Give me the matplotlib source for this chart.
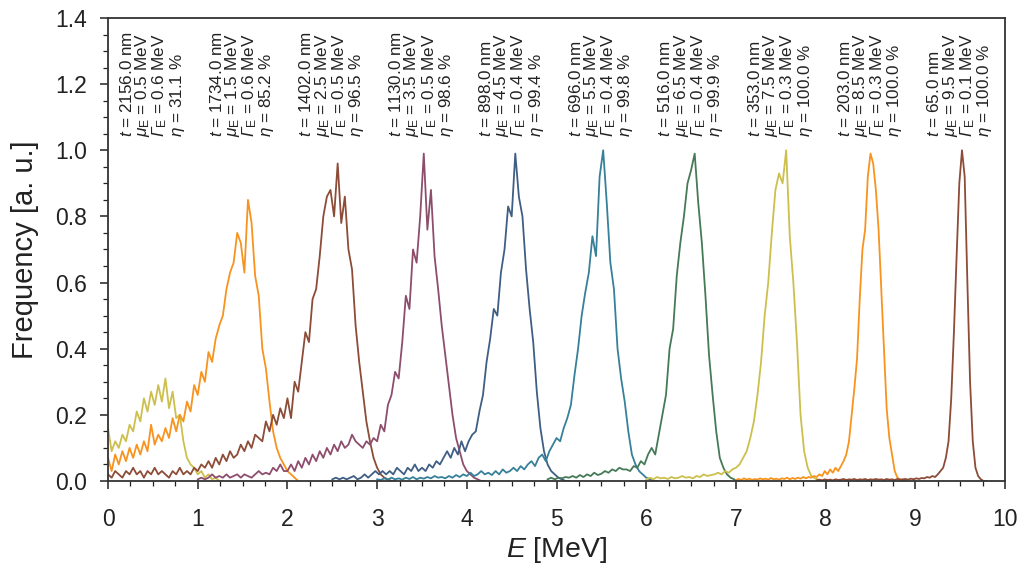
import matplotlib.pyplot as plt
import numpy as np
from matplotlib.ticker import MultipleLocator, FormatStrFormatter

plt.rcParams['font.family'] = ['Liberation Sans', 'DejaVu Sans']
plt.rcParams['mathtext.fontset'] = 'custom'
plt.rcParams['mathtext.rm'] = 'Liberation Sans'
plt.rcParams['mathtext.it'] = 'Liberation Sans:italic'
# kurziva pro velka recka pismena (Gamma) pres \mathsf
plt.rcParams['mathtext.sf'] = 'Liberation Sans:italic'

# parametry spekter (nad kazdym vrcholem)
mu_e = [0.5, 1.5, 2.5, 3.5, 4.5, 5.5, 6.5, 7.5, 8.5, 9.5]
thickness = [2156.0, 1734.0, 1402.0, 1130.0, 898.0, 696.0, 516.0, 353.0, 203.0, 65.0]
gamma_e = [0.6, 0.6, 0.5, 0.5, 0.4, 0.4, 0.4, 0.3, 0.3, 0.1]
eta = [31.1, 85.2, 96.5, 98.6, 99.4, 99.8, 99.9, 100.0, 100.0, 100.0]

# zacatek a krok energeticke osy pro kazde spektrum [MeV]
e_start = [0.0, 0.0, 0.0, 1.0, 2.5, 3.0, 4.9, 6.0, 7.0, 7.9]
e_step = [0.04, 0.04, 0.04, 0.04, 0.04, 0.04, 0.04, 0.04, 0.03, 0.03]

freq_05 = [.16, .09, .12, .10, .14, .12, .17, .15, .21, .18, .25, .21, .27, .23, .29, .24,
           .31, .22, .27, .19, .20, .12, .07, .05, .04, .02, .03, .01, .02, .005, .01, 0, 0]
freq_15 = [.07, .03, .08, .05, .09, .06, .10, .07, .11, .08, .12, .09, .17, .11, .14, .12,
           .16, .13, .19, .15, .20, .18, .24, .21, .29, .26, .33, .30, .39, .36, .43, .47,
           .50, .58, .63, .66, .75, .72, .63, .85, .78, .62, .56, .40, .34, .24, .15, .10,
           .07, .05, .03, .02, .01, 0]
freq_25 = [.02, .01, .03, .02, .01, .03, .02, .04, .02, .03, .01, .03, .02, .04, .02, .03,
           .02, .01, .03, .02, .04, .02, .03, .02, .04, .03, .05, .04, .06, .04, .07, .05,
           .08, .06, .09, .07, .08, .11, .09, .12, .10, .14, .13, .12, .18, .15, .20, .17,
           .22, .19, .25, .19, .30, .27, .36, .45, .42, .55, .58, .68, .80, .86, .88, .80,
           .96, .78, .86, .70, .64, .47, .36, .27, .18, .12, .07, .04, .02, .01, .005, 0, 0]
freq_35 = [.005, .01, .005, .01, .02, .01, .015, .01, .02, .01, .015, .02, .01, .02, .015, .01,
           .02, .03, .02, .025, .02, .04, .03, .05, .03, .03, .05, .03, .06, .04, .07, .05,
           .08, .06, .09, .07, .10, .08, .11, .09, .12, .10, .11, .14, .12, .11, .10, .12,
           .11, .13, .12, .17, .15, .23, .26, .33, .31, .42, .56, .52, .70, .66, .80, .99,
           .76, .88, .68, .58, .47, .38, .29, .20, .13, .09, .05, .03, .02, .01, .005, 0, 0]
freq_45 = [.005, .01, .005, .01, .005, .01, .015, .005, .01, .02, .01, .02, .03, .02, .03, .02,
           .03, .02, .04, .03, .02, .04, .03, .05, .03, .04, .03, .05, .04, .06, .05, .07,
           .09, .07, .10, .08, .12, .09, .12, .14, .15, .21, .26, .36, .43, .52, .50, .63,
           .70, .83, .80, .99, .86, .80, .64, .52, .42, .27, .16, .09, .05, .03, .02, .01,
           .005, 0, 0]
freq_55 = [.005, .003, .008, .004, .01, .005, .008, .004, .01, .006, .012, .005, .01, .007, .012, .008,
           .015, .01, .012, .008, .015, .01, .018, .012, .02, .015, .025, .015, .02, .03, .02, .025,
           .018, .03, .02, .035, .025, .03, .04, .03, .045, .035, .05, .06, .045, .07, .08, .06,
           .09, .11, .13, .12, .16, .19, .23, .32, .40, .50, .57, .63, .74, .68, .92, 1.0,
           .84, .66, .58, .40, .31, .24, .15, .08, .05, .03, .02, .01, .005, 0, 0]
freq_65 = [.005, .01, .005, .01, .008, .012, .01, .015, .01, .018, .012, .02, .015, .025, .018, .022,
           .03, .025, .035, .03, .04, .035, .035, .03, .045, .04, .06, .05, .08, .10, .08, .14,
           .20, .26, .40, .46, .62, .72, .80, .90, .94, .99, .84, .72, .56, .38, .26, .15,
           .07, .04, .02, .01, .005, 0, 0]
freq_75 = [.005, .01, .005, .012, .008, .01, .006, .012, .008, .01, .015, .01, .012, .008, .015, .012,
           .02, .015, .018, .02, .025, .02, .03, .025, .035, .04, .05, .07, .09, .13, .18, .26,
           .36, .50, .60, .75, .88, .93, .90, 1.0, .74, .60, .42, .20, .09, .04, .015, .008,
           .004, 0, 0]
freq_85 = [.003, .006, .003, .008, .004, .007, .003, .006, .004, .008, .005, .007, .004, .009, .005, .007,
           .004, .008, .006, .01, .005, .009, .006, .01, .007, .012, .008, .012, .01, .015, .012, .02,
           .015, .03, .02, .035, .025, .04, .03, .045, .06, .08, .12, .20, .28, .37, .55, .70,
           .76, .92, .99, .96, .88, .76, .58, .40, .22, .13, .08, .03, .01, .005, 0, 0]
freq_95 = [.002, .004, .002, .005, .003, .004, .002, .005, .003, .004, .006, .003, .005, .004, .006, .003,
           .005, .004, .006, .003, .005, .004, .006, .004, .005, .003, .006, .004, .005, .003, .006, .004,
           .005, .006, .004, .007, .005, .008, .006, .009, .008, .012, .01, .015, .012, .02, .03, .04,
           .07, .12, .25, .45, .68, .90, 1.0, .92, .60, .30, .12, .04, .015, .005, 0, 0]

spectra = [freq_05, freq_15, freq_25, freq_35, freq_45, freq_55, freq_65, freq_75, freq_85, freq_95]
colors = ['#cdbf4d', '#f7931e', '#8c4c37', '#8d4d6c', '#3f5e84', '#36809a', '#457a57',
          '#cdbf4d', '#f7931e', '#8c4c37']

fig = plt.figure(figsize=(10.24, 5.65), dpi=100)
ax = fig.add_axes([0.1055, 0.1487, 0.876, 0.8195])

for i, freq in enumerate(spectra):
    energy = e_start[i] + e_step[i] * np.arange(len(freq))
    ax.plot(energy, freq, color=colors[i], linewidth=1.3)

    label = (f"$t$ = {thickness[i]:.1f} nm\n"
             f"$\\mu_\\mathrm{{E}}$ = {mu_e[i]:.1f} MeV\n"
             f"$\\mathsf{{\\Gamma}}_\\mathrm{{E}}$ = {gamma_e[i]:.1f} MeV\n"
             f"$\\eta$ = {eta[i]:.1f} %")
    ax.text(mu_e[i], 1.04, label, rotation=90, ha='center', va='bottom',
            multialignment='left', fontsize=12.3, linespacing=0.88, color='#222222')

ax.set_xlim(0, 10)
ax.set_ylim(0, 1.4)
ax.xaxis.set_major_locator(MultipleLocator(1))
ax.xaxis.set_minor_locator(MultipleLocator(0.25))
ax.yaxis.set_major_locator(MultipleLocator(0.2))
ax.yaxis.set_minor_locator(MultipleLocator(0.05))
ax.yaxis.set_major_formatter(FormatStrFormatter('%.1f'))

ax.tick_params(which='both', direction='out', top=False, right=False,
               color='#222222', labelsize=16.5, labelcolor='#222222')
ax.tick_params(which='major', length=5.5, width=1.1)
ax.tick_params(which='minor', length=3.5, width=0.9)
ax.tick_params(axis='x', which='major', pad=14)
ax.tick_params(axis='y', which='major', pad=9.5)
for s in ax.spines.values():
    s.set_linewidth(1.3)
    s.set_color('#333333')

ax.set_xlabel('$E$ [MeV]', fontsize=20.5, color='#222222', labelpad=3)
ax.set_ylabel('Frequency [a. u.]', fontsize=21, color='#222222', labelpad=12)

plt.savefig('out.png', dpi=100)
